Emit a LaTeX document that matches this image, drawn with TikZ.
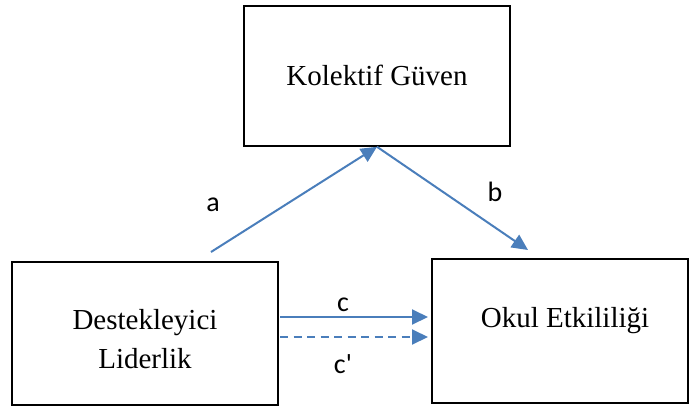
\documentclass[tikz,border=0pt]{standalone}
\usepackage{fontspec}
\setmainfont{Liberation Serif}
\newfontfamily\labelfont{Carlito}
\usetikzlibrary{arrows.meta}
\definecolor{linkblue}{HTML}{4A7EBB}
\begin{document}
\begin{tikzpicture}[x=1pt,y=-1pt,
  box/.style={draw=black, line width=1.6pt, inner sep=0pt},
  boxtext/.style={anchor=base, inner sep=0pt, font=\fontsize{29}{35}\selectfont},
  link/.style={draw=linkblue, line width=2pt, -{Triangle[length=16pt,width=15pt]}},
  lbl/.style={font=\labelfont\fontsize{28}{30}\selectfont, inner sep=0pt}]
\useasboundingbox (0,0) rectangle (689,410);

% the three constructs
\node[box, minimum width=266pt, minimum height=140pt] (kg) at (377,76) {};
\node[box, minimum width=266pt, minimum height=143pt] (dl) at (145,333.5) {};
\node[box, minimum width=256pt, minimum height=144pt] (oe) at (560,331) {};

\node[boxtext] (kgText) at (377,85) {Kolektif Güven};
\node[boxtext] (dlText1) at (145,329) {Destekleyici};
\node[boxtext] (dlText2) at (145,368) {Liderlik};
\node[boxtext] (oeText) at (565,327) {Okul Etkililiği};

% free ends of the paths
\coordinate (aStart) at (211,252);
\coordinate (bEnd) at (528,250);
\coordinate (cStart) at (280,317);
\coordinate (cEnd) at (428,317);
\coordinate (dStart) at (280,337);
\coordinate (dEnd) at (428,337);

% paths
\draw[link] (aStart) -- (kg.south);
\draw[link] (kg.south) -- (bEnd);
\draw[link] (cStart) -- (cEnd);
\draw[link, dash pattern=on 8pt off 5.5pt] (dStart) -- (dEnd);

% path labels
\node[lbl] (la) at (213,205) {a};
\node[lbl] (lb) at (495,191.5) {b};
\node[lbl] (lc) at (343,305) {c};
\node[lbl] (lcp) at (343,364.5) {c'};
\end{tikzpicture}
\end{document}
